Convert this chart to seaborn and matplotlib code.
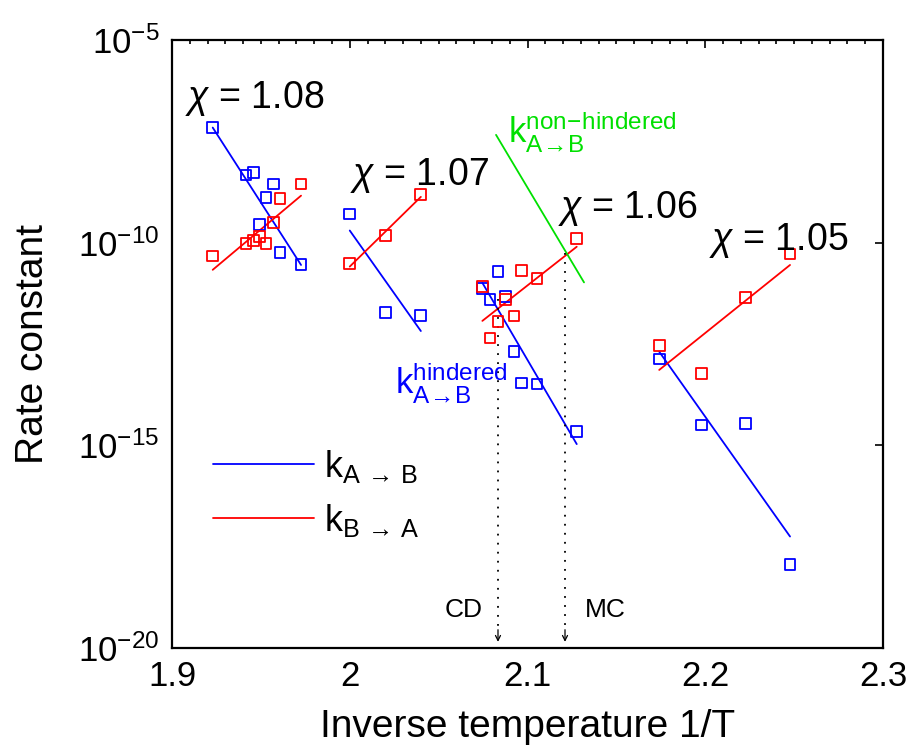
import numpy as np
import pandas as pd
import seaborn as sns
import matplotlib.pyplot as plt
from matplotlib.ticker import FixedLocator, FixedFormatter, MultipleLocator, NullLocator

# --- data (y values are log10 of the rate constant) ---
# chi = 1.08
x_108 = [1.9229, 1.9416, 1.9457, 1.9491, 1.9529, 1.9570, 1.9608, 1.9726]
kab_108 = [-7.16, -8.33, -8.26, -9.55, -8.89, -8.55, -10.25, -10.53]
kba_108 = [-10.33, -10.02, -9.95, -9.84, -10.02, -9.51, -8.91, -8.55]
fitx_108 = [1.9229, 1.9726]
fitab_108 = [-7.16, -10.55]
fitba_108 = [-10.67, -8.84]

# chi = 1.07
x_107 = [2.00, 2.02, 2.04]
kab_107 = [-9.29, -11.72, -11.79]
kba_107 = [-10.51, -9.83, -8.82]
fitx_107 = [2.00, 2.04]
fitab_107 = [-9.70, -12.18]
fitba_107 = [-10.59, -8.87]

# chi = 1.06
x_106 = [2.0746, 2.0789, 2.0834, 2.0877, 2.0924, 2.0965, 2.1053, 2.1277]
kab_106 = [-11.14, -11.41, -10.72, -11.32, -12.69, -13.46, -13.49, -14.66]
kba_106 = [-11.09, -12.35, -11.95, -11.41, -11.81, -10.69, -10.88, -9.89]
fitx_106 = [2.0746, 2.1277]
fitab_106 = [-10.99, -14.97]
fitba_106 = [-11.93, -10.10]

# chi = 1.05
x_105 = [2.1741, 2.1980, 2.2228, 2.2477]
kab_105 = [-12.87, -14.50, -14.47, -17.95]
kba_105 = [-12.54, -13.23, -11.35, -10.28]
fitx_105 = [2.1741, 2.2477]
fitab_105 = [-12.69, -17.25]
fitba_105 = [-13.14, -10.55]

# non-hindered estimate
nonhind_x = [2.0823, 2.1318]
nonhind_y = [-7.34, -10.98]

# CD / MC markers
marker_names = ['CD', 'MC']
marker_x = [2.0834, 2.1211]
marker_top = [-11.40, -10.25]

chi_labels = ['1.08', '1.07', '1.06', '1.05']
chi_pos_x = [1.9073, 2.0001, 2.1172, 2.2021]
chi_pos_y = [-6.68, -8.58, -9.39, -10.18]

xtick_vals = [1.9, 2.0, 2.1, 2.2, 2.3]
xtick_labels = ['1.9', '2', '2.1', '2.2', '2.3']
ytick_exp = [-20, -15, -10, -5]

groups = [
    (x_108, kab_108, kba_108, fitx_108, fitab_108, fitba_108),
    (x_107, kab_107, kba_107, fitx_107, fitab_107, fitba_107),
    (x_106, kab_106, kba_106, fitx_106, fitab_106, fitba_106),
    (x_105, kab_105, kba_105, fitx_105, fitab_105, fitba_105),
]

sns.set_theme(style='white')
plt.rcParams['font.family'] = ['Liberation Sans', 'DejaVu Sans']
plt.rcParams['mathtext.fontset'] = 'custom'
plt.rcParams['mathtext.rm'] = 'Liberation Sans'
plt.rcParams['mathtext.it'] = 'Liberation Sans:italic'
plt.rcParams['mathtext.bf'] = 'Liberation Sans:bold'
plt.rcParams['text.color'] = 'black'
plt.rcParams['axes.labelcolor'] = 'black'

fig = plt.figure(figsize=(9.12, 7.51), dpi=100)
ax = fig.add_axes([0.1886, 0.1372, 0.7796, 0.8095])

blue_line = red_line = None
for xs, kab, kba, fx, fab, fba in groups:
    pts = pd.DataFrame({'x': xs, 'kab': 10.0 ** np.array(kab), 'kba': 10.0 ** np.array(kba)})
    fit = pd.DataFrame({'x': fx, 'kab': 10.0 ** np.array(fab), 'kba': 10.0 ** np.array(fba)})
    sns.scatterplot(data=pts, x='x', y='kab', marker='s', s=60, facecolor='none',
                    edgecolor='blue', linewidth=1.3, ax=ax, zorder=3)
    sns.scatterplot(data=pts, x='x', y='kba', marker='s', s=60, facecolor='none',
                    edgecolor='red', linewidth=1.3, ax=ax, zorder=3)
    sns.lineplot(data=fit, x='x', y='kab', color='blue', lw=1.3, ax=ax)
    blue_line = ax.lines[-1]
    sns.lineplot(data=fit, x='x', y='kba', color='red', lw=1.3, ax=ax)
    red_line = ax.lines[-1]

nh = pd.DataFrame({'x': nonhind_x, 'k': 10.0 ** np.array(nonhind_y)})
sns.lineplot(data=nh, x='x', y='k', color='#00e000', lw=1.3, ax=ax)

ax.set_yscale('log')
ax.set_xlim(1.9, 2.3)
ax.set_ylim(1e-20, 1e-5)

# dotted drop lines with small arrowheads
for name, mx, mt in zip(marker_names, marker_x, marker_top):
    ax.plot([mx, mx], [10.0 ** mt, 10.0 ** -19.6], color='black', lw=1.3,
            linestyle=(0, (1, 4)))
    ax.annotate('', xy=(mx, 10.0 ** -19.85), xytext=(mx, 10.0 ** -19.55),
                arrowprops=dict(arrowstyle='->', color='black', lw=0.9,
                                shrinkA=0, shrinkB=0, mutation_scale=9))
ax.text(2.075, 10.0 ** -19.24, marker_names[0], fontsize=19, ha='right', va='baseline')
ax.text(2.1323, 10.0 ** -19.24, marker_names[1], fontsize=19, ha='left', va='baseline')

for lab, cx, cy in zip(chi_labels, chi_pos_x, chi_pos_y):
    ax.text(cx, 10.0 ** cy, r'$\chi$ = ' + lab, fontsize=27, ha='left', va='baseline')

ax.text(2.089, 10.0 ** -7.52, r'$\mathregular{k^{non\!-\!hindered}_{A\!\rightarrow\! B}}$',
        color='#00e000', fontsize=25, ha='left', va='baseline')
ax.text(2.0255, 10.0 ** -13.71, r'$\mathregular{k^{hindered}_{A\!\rightarrow\! B}}$',
        color='blue', fontsize=25, ha='left', va='baseline')

leg = ax.legend([blue_line, red_line],
                [r'$\mathregular{k_{A\,\rightarrow\,B}}$', r'$\mathregular{k_{B\,\rightarrow\,A}}$'],
                loc='center left', bbox_to_anchor=(0.0577, 0.254), frameon=False,
                fontsize=26, handlelength=2.8, handletextpad=0.28,
                borderpad=0, borderaxespad=0, labelspacing=0.47)

ax.xaxis.set_major_locator(FixedLocator(xtick_vals))
ax.xaxis.set_major_formatter(FixedFormatter(xtick_labels))
ax.xaxis.set_minor_locator(MultipleLocator(0.01))
ax.yaxis.set_major_locator(FixedLocator([10.0 ** e for e in ytick_exp]))
ax.yaxis.set_minor_locator(NullLocator())

ax.tick_params(axis='both', which='both', direction='in', top=True, right=True,
               labelsize=25, colors='black', width=1.2)
ax.tick_params(axis='both', which='major', length=6, pad=9)
ax.tick_params(axis='x', which='minor', length=3)
for sp in ax.spines.values():
    sp.set_linewidth(1.6)
    sp.set_color('black')

ax.set_xlabel('Inverse temperature 1/T', fontsize=28)
ax.set_ylabel('Rate constant', fontsize=28)
ax.xaxis.set_label_coords(0.5, -0.1)
ax.yaxis.set_label_coords(-0.17, 0.5)

fig.savefig('out.png', dpi=100)
